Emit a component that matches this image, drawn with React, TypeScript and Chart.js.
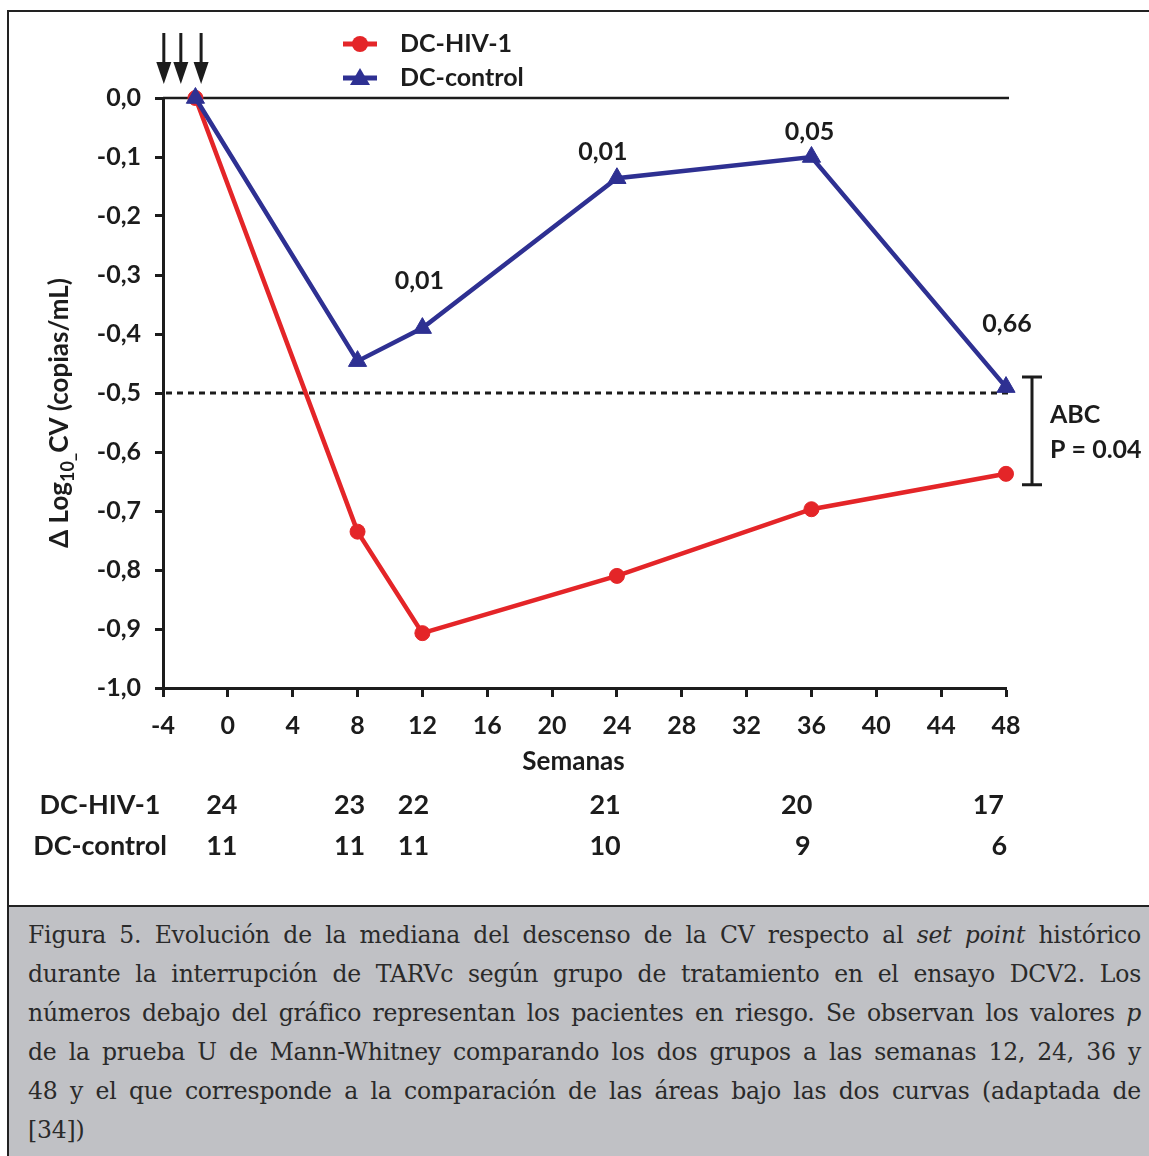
import React, { useEffect, useRef } from 'react';
import { Chart, registerables } from 'chart.js';

Chart.register(...registerables);

// ---- data ----
const weeks = [-2, 8, 12, 24, 36, 48];
const dcHiv = [0, -0.735, -0.907, -0.81, -0.697, -0.637];
const dcControl = [0, -0.446, -0.39, -0.136, -0.1, -0.49];
const seriesNames = ['DC-HIV-1', 'DC-control'];
const xTickMin = -4;
const xTickMax = 48;
const xTickStep = 4;
const yTickMin = -1;
const yTickMax = 0;
const yTickStep = 0.1;
const pValueWeeks = [12, 24, 36, 48];
const pValueLabels = ['0,01', '0,01', '0,05', '0,66'];
const arrowWeeks = [-3.95, -2.9, -1.65];
const atRiskWeeks = [0, 8, 12, 24, 36, 48];
const atRiskHiv = [24, 23, 22, 21, 20, 17];
const atRiskControl = [11, 11, 11, 10, 9, 6];
const thresholdValue = -0.5;
const abcLabels = ['ABC', 'P = 0.04'];
const xTitle = 'Semanas';

const RED = '#e42528';
const BLUE = '#2e3092';
const INK = '#1c1c1c';
const FONT = 'Lato, "Open Sans", sans-serif';

const overlayPlugin = {
  id: 'overlay',
  beforeDatasetsDraw(chart: any) {
    const { ctx, scales } = chart;
    const x = scales.x;
    const y = scales.y;
    ctx.save();
    const y0 = y.getPixelForValue(0);
    ctx.strokeStyle = INK;
    ctx.lineWidth = 2.5;
    ctx.beginPath();
    ctx.moveTo(x.getPixelForValue(xTickMin), y0);
    ctx.lineTo(x.getPixelForValue(xTickMax) + 3, y0);
    ctx.stroke();
    const yT = y.getPixelForValue(thresholdValue);
    ctx.setLineDash([6, 5]);
    ctx.lineWidth = 3;
    ctx.beginPath();
    ctx.moveTo(x.getPixelForValue(xTickMin) + 3, yT);
    ctx.lineTo(x.getPixelForValue(xTickMax) + 3, yT);
    ctx.stroke();
    ctx.restore();
  },
  afterDraw(chart: any) {
    const { ctx, scales, chartArea } = chart;
    const x = scales.x;
    const y = scales.y;
    ctx.save();

    // arrows
    ctx.fillStyle = INK;
    ctx.strokeStyle = INK;
    arrowWeeks.forEach((w) => {
      const px = x.getPixelForValue(w);
      const top = chartArea.top - 65;
      const tip = chartArea.top - 14;
      ctx.lineWidth = 3;
      ctx.beginPath();
      ctx.moveTo(px, top);
      ctx.lineTo(px, tip - 18);
      ctx.stroke();
      ctx.beginPath();
      ctx.moveTo(px - 7.5, tip - 22);
      ctx.lineTo(px + 7.5, tip - 22);
      ctx.lineTo(px, tip);
      ctx.closePath();
      ctx.fill();
    });

    // legend
    const lx = 352;
    const ly = [32, 66];
    ctx.font = `bold 25px ${FONT}`;
    ctx.textAlign = 'left';
    ctx.textBaseline = 'middle';
    [RED, BLUE].forEach((c, i) => {
      ctx.strokeStyle = c;
      ctx.fillStyle = c;
      ctx.lineWidth = 5;
      ctx.beginPath();
      ctx.moveTo(lx - 17, ly[i]);
      ctx.lineTo(lx + 17, ly[i]);
      ctx.stroke();
      ctx.beginPath();
      if (i === 0) {
        ctx.arc(lx, ly[i], 8, 0, Math.PI * 2);
      } else {
        ctx.moveTo(lx, ly[i] - 10);
        ctx.lineTo(lx + 10, ly[i] + 7);
        ctx.lineTo(lx - 10, ly[i] + 7);
        ctx.closePath();
      }
      ctx.fill();
      ctx.fillStyle = INK;
      ctx.fillText(seriesNames[i], lx + 40, ly[i]);
    });

    // p-value labels above DC-control
    const offs = [[-3, -47], [-14, -26], [-2, -25], [1, -63]];
    ctx.textAlign = 'center';
    ctx.fillStyle = INK;
    ctx.font = `bold 25px ${FONT}`;
    pValueWeeks.forEach((w, i) => {
      const idx = weeks.indexOf(w);
      const px = x.getPixelForValue(w) + offs[i][0];
      const py = y.getPixelForValue(dcControl[idx]) + offs[i][1];
      ctx.fillText(pValueLabels[i], px, py);
    });

    // ABC bracket
    const last = weeks.length - 1;
    const bx = x.getPixelForValue(weeks[last]) + 26;
    const bt = y.getPixelForValue(dcControl[last]) - 10;
    const bb = y.getPixelForValue(dcHiv[last]) + 11;
    ctx.strokeStyle = INK;
    ctx.lineWidth = 3;
    ctx.beginPath();
    ctx.moveTo(bx, bt);
    ctx.lineTo(bx, bb);
    ctx.moveTo(bx - 10, bt);
    ctx.lineTo(bx + 10, bt);
    ctx.moveTo(bx - 10, bb);
    ctx.lineTo(bx + 10, bb);
    ctx.stroke();
    const bm = (bt + bb) / 2;
    ctx.textAlign = 'left';
    ctx.fillText(abcLabels[0], bx + 18, bm - 16);
    ctx.fillText(abcLabels[1], bx + 18, bm + 19);

    // x title
    ctx.textAlign = 'center';
    ctx.font = `bold 26px ${FONT}`;
    ctx.fillText(xTitle, (chartArea.left + chartArea.right) / 2 - 11, chartArea.bottom + 74);

    // y title (rotated, with subscript)
    ctx.save();
    ctx.translate(52, (chartArea.top + chartArea.bottom) / 2 + 20);
    ctx.rotate(-Math.PI / 2);
    const mainFont = `bold 26px ${FONT}`;
    const subFont = `bold 18px ${FONT}`;
    const parts = [
      { t: 'Δ Log', f: mainFont, dy: 0 },
      { t: '10_', f: subFont, dy: 8 },
      { t: 'CV (copias/mL)', f: mainFont, dy: 0 },
    ];
    let total = 0;
    parts.forEach((p) => {
      ctx.font = p.f;
      total += ctx.measureText(p.t).width;
    });
    let cx = -total / 2;
    ctx.textAlign = 'left';
    parts.forEach((p) => {
      ctx.font = p.f;
      ctx.fillText(p.t, cx, p.dy);
      cx += ctx.measureText(p.t).width;
    });
    ctx.restore();

    // at-risk table
    ctx.font = `bold 27px ${FONT}`;
    ctx.textAlign = 'center';
    const rowsY = [chartArea.bottom + 117, chartArea.bottom + 158];
    ctx.fillText(seriesNames[0], 92, rowsY[0]);
    ctx.fillText(seriesNames[1], 92, rowsY[1]);
    const x0 = x.getPixelForValue(0);
    atRiskWeeks.forEach((w, i) => {
      const px = x0 - 6 + (x.getPixelForValue(w) - x0) * 0.985;
      ctx.fillText(String(atRiskHiv[i]), px, rowsY[0]);
      ctx.fillText(String(atRiskControl[i]), px + (i === 4 ? 6 : i === 5 ? 11 : 0), rowsY[1]);
    });

    ctx.restore();
  },
};

function ChartCanvas() {
  const ref = useRef<HTMLCanvasElement | null>(null);
  useEffect(() => {
    if (!ref.current) return;
    const chart = new Chart(ref.current, {
      type: 'line',
      data: {
        datasets: [
          {
            label: seriesNames[0],
            data: weeks.map((w, i) => ({ x: w, y: dcHiv[i] })),
            borderColor: RED,
            backgroundColor: RED,
            borderWidth: 4.5,
            pointStyle: 'circle',
            pointRadius: 7.5,
            pointBorderWidth: 1,
            pointBackgroundColor: RED,
            pointBorderColor: RED,
            clip: false,
            order: 2,
          },
          {
            label: seriesNames[1],
            data: weeks.map((w, i) => ({ x: w, y: dcControl[i] })),
            borderColor: BLUE,
            backgroundColor: BLUE,
            borderWidth: 4.5,
            pointStyle: 'triangle',
            pointRadius: 10.5,
            pointBorderWidth: 1,
            pointBackgroundColor: BLUE,
            pointBorderColor: BLUE,
            clip: false,
            order: 1,
          },
        ],
      },
      options: {
        responsive: false,
        animation: false,
        devicePixelRatio: 1,
        layout: { padding: { left: 0, top: 86, right: 143, bottom: 0 } },
        plugins: {
          legend: { display: false },
          tooltip: { enabled: false },
          title: { display: false },
        },
        scales: {
          x: {
            type: 'linear',
            min: xTickMin,
            max: xTickMax,
            afterFit: (s: any) => {
              s.height = 218;
            },
            ticks: {
              stepSize: xTickStep,
              autoSkip: false,
              maxRotation: 0,
              padding: 14,
              color: INK,
              font: { family: FONT, size: 25, weight: 'bold' },
            },
            grid: {
              drawOnChartArea: false,
              drawTicks: true,
              tickLength: 9,
              tickWidth: 3,
              tickColor: INK,
            },
            border: { display: true, color: INK, width: 3 },
          },
          y: {
            type: 'linear',
            min: yTickMin,
            max: yTickMax,
            afterFit: (s: any) => {
              s.width = 155;
            },
            ticks: {
              stepSize: yTickStep,
              autoSkip: false,
              padding: 14,
              color: INK,
              font: { family: FONT, size: 25, weight: 'bold' },
              callback: (v: any) => Number(v).toFixed(1).replace('.', ','),
            },
            grid: {
              drawOnChartArea: false,
              drawTicks: true,
              tickLength: 8,
              tickWidth: 3,
              tickColor: INK,
            },
            border: { display: true, color: INK, width: 3 },
          },
        },
      },
      plugins: [overlayPlugin],
    } as any);
    return () => chart.destroy();
  }, []);
  return (
    <canvas
      ref={ref}
      width={1141}
      height={894}
      style={{ position: 'absolute', left: 8, top: 12, width: 1141, height: 894 }}
    />
  );
}

const captionLines: React.ReactNode[] = [
  <>Figura 5. Evolución de la mediana del descenso de la CV respecto al <i>set point</i> histórico</>,
  <>durante la interrupción de TARVc según grupo de tratamiento en el ensayo DCV2. Los</>,
  <>números debajo del gráfico representan los pacientes en riesgo. Se observan los valores <i>p</i></>,
  <>de la prueba U de Mann-Whitney comparando los dos grupos a las semanas 12, 24, 36 y</>,
  <>48 y el que corresponde a la comparación de las áreas bajo las dos curvas (adaptada de</>,
  <>[34])</>,
];

export default function App() {
  useEffect(() => {
    document.body.style.margin = '0';
  }, []);
  return (
    <div style={{ position: 'relative', width: 1149, height: 1156, overflow: 'hidden' }}>
      <div
        style={{
          position: 'absolute',
          left: 7,
          top: 10,
          width: 1142,
          height: 896,
          borderLeft: '2px solid #222',
          borderTop: '2px solid #222',
          boxSizing: 'border-box',
          background: '#fff',
        }}
      />
      <ChartCanvas />
      <div
        style={{
          position: 'absolute',
          left: 7,
          top: 905,
          width: 1142,
          height: 251,
          overflow: 'hidden',
          background: '#c0c1c5',
          borderLeft: '2px solid #222',
          borderTop: '2px solid #222',
          boxSizing: 'border-box',
          paddingTop: 9,
          paddingLeft: 19,
          fontFamily: '"DejaVu Serif", serif',
          fontSize: 23.5,
          lineHeight: '39px',
          color: '#2a2a2a',
        }}
      >
        {captionLines.map((l, i) => (
          <div
            key={i}
            style={{
              width: 1113,
              whiteSpace: 'nowrap',
              letterSpacing: -0.2,
              textAlign: i === captionLines.length - 1 ? 'left' : 'justify',
              textAlignLast: i === captionLines.length - 1 ? 'left' : 'justify',
            }}
          >
            {l}
          </div>
        ))}
      </div>
    </div>
  );
}
